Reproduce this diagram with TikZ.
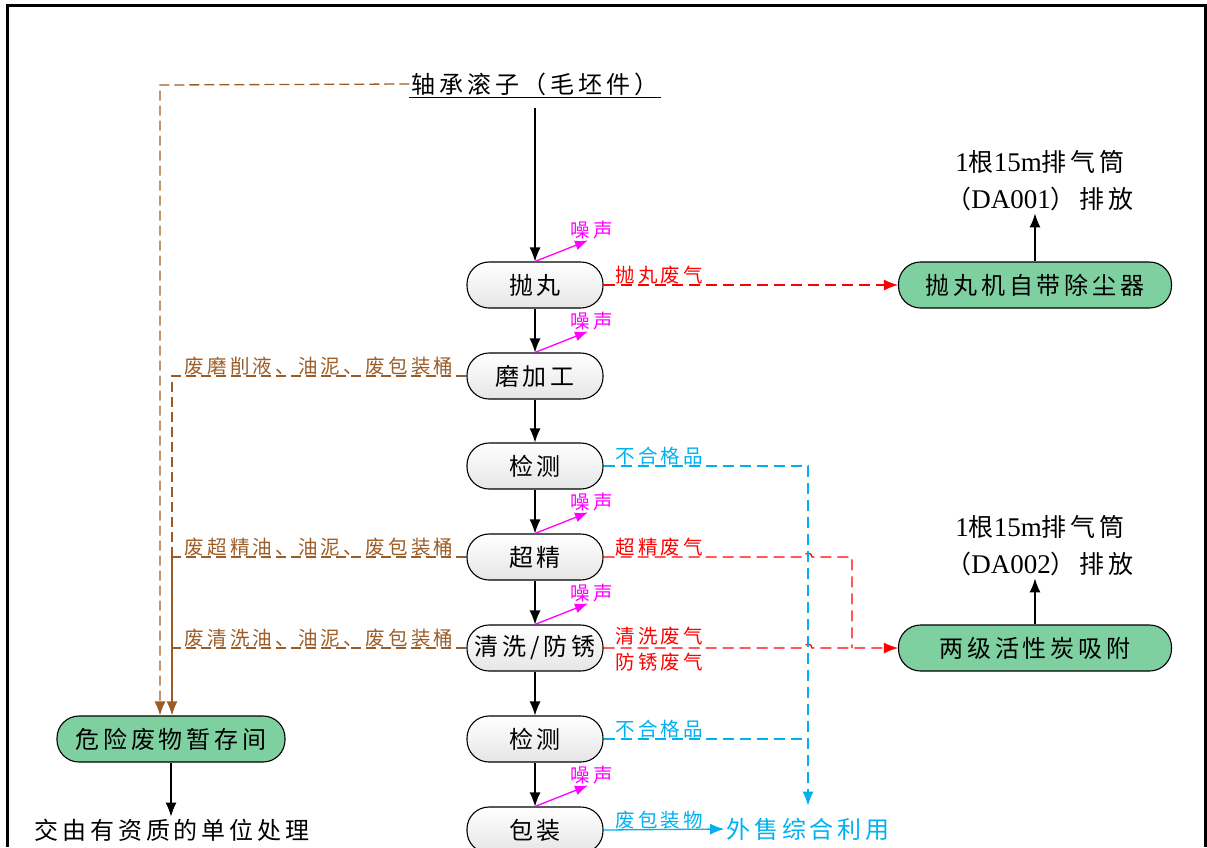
\documentclass[tikz,border=0pt]{standalone}
\usepackage{fontspec}
\setmainfont{Liberation Serif}
\newfontfamily\cjk[LetterSpace=16]{Noto Sans CJK SC}
\newfontfamily\lat{Liberation Serif}
\usetikzlibrary{arrows.meta,calc}
\definecolor{brn}{RGB}{156,92,38}
\definecolor{blu}{RGB}{0,176,240}
\definecolor{grn}{RGB}{127,208,160}
\definecolor{mag}{RGB}{255,0,255}
\definecolor{rd}{RGB}{255,0,0}
\begin{document}
\begin{tikzpicture}[x=1pt,y=-1pt,
  every node/.style={font=\cjk\fontsize{24}{30}\selectfont, inner sep=2pt},
  proc/.style={draw=black, line width=1.1pt, rounded corners=22pt, minimum width=136pt, minimum height=46pt, top color=white, bottom color=black!10},
  store/.style={draw=black, line width=1.1pt, rounded corners=22pt, minimum height=46pt, fill=grn},
  lbl/.style={font=\cjk\fontsize{19.5}{21}\selectfont, inner sep=1pt},
  tip/.style={-{Latex[length=14pt,width=11pt]}},
  arr/.style={line width=1.3pt, tip},
  noise/.style={draw=mag, line width=1.3pt, -{Latex[length=13pt,width=10pt]}},
  reddash/.style={draw=rd, line width=1.3pt, dash pattern=on 11pt off 6pt},
  bluedash/.style={draw=blu, line width=1.3pt, dash pattern=on 11pt off 6pt},
  browndash/.style={draw=brn, line width=1.3pt, dash pattern=on 10pt off 5pt},
  stack/.style={align=center, font=\cjk\fontsize{25}{37}\selectfont},
]
\useasboundingbox (0,0) rectangle (1207,847);
% frame
\draw[line width=3pt] (7,847) -- (7,5) -- (1205,5) -- (1205,847);

% title
\node (title) at (535,84) {轴承滚子（毛坯件）};
\draw[line width=1pt] (title.south west) -- (title.south east);

% process boxes
\node[proc] (p1) at (535,285) {抛丸};
\node[proc] (p2) at (535,376) {磨加工};
\node[proc] (p3) at (535,466) {检测};
\node[proc] (p4) at (535,557) {超精};
\node[proc] (p5) at (535,648) {清洗/防锈};
\node[proc] (p6) at (535,739) {检测};
\node[proc] (p7) at (535,830) {包装};

% treatment boxes
\node[store, minimum width=273pt] (dust) at (1035,285) {抛丸机自带除尘器};
\node[store, minimum width=273pt] (carbon) at (1035,648) {两级活性炭吸附};
\node[store, minimum width=228pt] (haz) at (171,739) {危险废物暂存间};

% outputs
\node[stack] (s1) at (1040,181) {{\lat\fontsize{27}{37}\selectfont 1}根{\lat\fontsize{27}{37}\selectfont 15m}排气筒\\（{\lat\fontsize{27}{37}\selectfont DA001}）排放};
\node[stack] (s2) at (1040,546) {{\lat\fontsize{27}{37}\selectfont 1}根{\lat\fontsize{27}{37}\selectfont 15m}排气筒\\（{\lat\fontsize{27}{37}\selectfont DA002}）排放};
\node (disp) at (172,830) {交由有资质的单位处理};
\node[text=blu] (sell) at (808,829) {外售综合利用};

% main flow
\draw[arr] ([yshift=-10pt]title.south) -- (p1.north);
\draw[arr] (p1.south) -- (p2.north);
\draw[arr] (p2.south) -- (p3.north);
\draw[arr] (p3.south) -- (p4.north);
\draw[arr] (p4.south) -- (p5.north);
\draw[arr] (p5.south) -- (p6.north);
\draw[arr] (p6.south) -- (p7.north);
\draw[arr] (dust.north) -- (dust.north |- s1.south);
\draw[arr] (carbon.north) -- (carbon.north |- s2.south);
\draw[arr] (haz.south) -- (haz.south |- disp.north);

% noise
\foreach \p/\n in {p1/n1,p2/n2,p4/n4,p5/n5,p7/n7}{
  \draw[noise] (\p.north) -- ++(53,-21) node[lbl, text=mag, anchor=south, xshift=4pt] (\n) {噪声};
}

% waste gas
\draw[reddash, tip] (p1.east) -- (dust.west);
\node[lbl, text=rd, anchor=south west] (g1) at ([xshift=11pt]p1.east) {抛丸废气};
\draw[reddash] (p4.east) -- (804,557) arc[start angle=180, end angle=0, radius=4pt] -- (852,557) coordinate (r1) -- (r1 |- carbon.west);
\node[lbl, text=rd, anchor=south west] (g2) at ([xshift=11pt]p4.east) {超精废气};
\draw[reddash, tip] (p5.east) -- (804,648) arc[start angle=180, end angle=0, radius=4pt] -- (carbon.west);
\node[lbl, text=rd, anchor=south west] (g3) at ([xshift=11pt, yshift=2pt]p5.east) {清洗废气};
\node[lbl, text=rd, anchor=north west] (g4) at ([xshift=11pt, yshift=-4pt]p5.east) {防锈废气};

% rejects
\coordinate (bl) at (808,466);
\draw[bluedash, tip] (p3.east) -- (bl) -- ([yshift=10pt]bl |- sell.north);
\draw[bluedash] (p6.east) -- (p6.east -| bl);
\node[lbl, text=blu, anchor=south west] (q1) at ([xshift=11pt]p3.east) {不合格品};
\node[lbl, text=blu, anchor=south west] (q2) at ([xshift=11pt]p6.east) {不合格品};
\draw[draw=blu, line width=1.3pt, tip] (p7.east) -- (sell.west);
\node[lbl, text=blu, anchor=south west] (q3) at ([xshift=11pt]p7.east) {废包装物};

% hazardous waste
\coordinate (c0) at (160,85);
\draw[browndash, tip] (title.west) -- (c0) -- (c0 |- haz.north);
\coordinate (b1) at (172,376);
\coordinate (b2) at (172,557);
\coordinate (b3) at (172,648);
\draw[browndash] (p2.west) -- (b1) -- (b2);
\draw[browndash] (p4.west) -- (b2);
\draw[browndash] (p5.west) -- (b3);
\draw[draw=brn, line width=1.5pt, tip] (b2) -- (b2 |- haz.north);
\node[lbl, text=brn, anchor=south east] (h1) at ([xshift=-12pt]p2.west) {废磨削液、油泥、废包装桶};
\node[lbl, text=brn, anchor=south east] (h2) at ([xshift=-12pt]p4.west) {废超精油、油泥、废包装桶};
\node[lbl, text=brn, anchor=south east] (h3) at ([xshift=-12pt]p5.west) {废清洗油、油泥、废包装桶};
\end{tikzpicture}
\end{document}
